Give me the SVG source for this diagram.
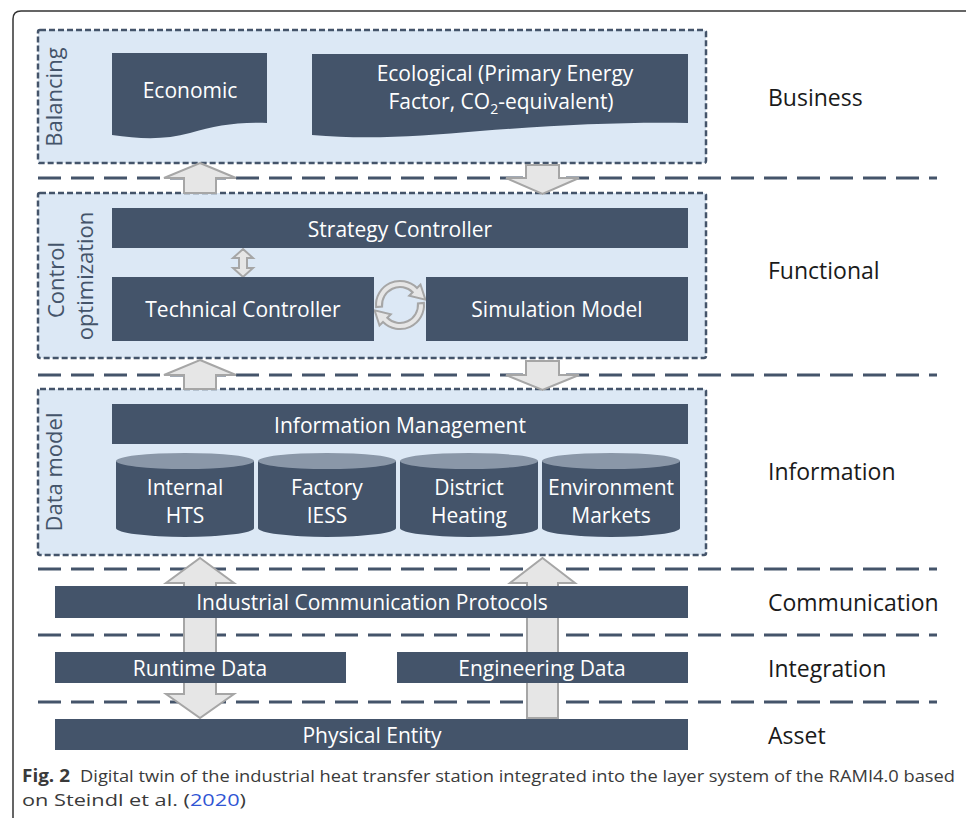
<svg xmlns="http://www.w3.org/2000/svg" width="966" height="818" viewBox="0 0 966 818">
<style>
.box{fill:#44546a}
.lbl{font-family:"Open Sans","DejaVu Sans",sans-serif;font-size:21px;fill:#ffffff;text-anchor:middle}
.side{font-family:"Open Sans","DejaVu Sans",sans-serif;font-size:23px;fill:#1a1a1a}
.vert{font-family:"Open Sans","DejaVu Sans",sans-serif;font-size:22px;fill:#44546a;text-anchor:middle}
.layer{fill:#dce8f5;stroke:#44546a;stroke-width:2.5;stroke-dasharray:6 3}
.sep{stroke:#44546a;stroke-width:3;stroke-dasharray:23 10;fill:none}
.arr{fill:#e6e6e6;stroke:#a6a6a6;stroke-width:2;stroke-linejoin:miter}
.cyltop{fill:#8a97a8}
.cap{font-family:"Open Sans","DejaVu Sans",sans-serif;font-size:17px;fill:#3a3a3a}
</style>
<rect width="966" height="818" fill="#ffffff"/>
<path d="M13,818 V19 Q13,11 21,11 H966" fill="none" stroke="#333333" stroke-width="1.5"/>

<g id="separators">
<line class="sep" x1="38" y1="178" x2="937" y2="178"/>
<line class="sep" x1="38" y1="375" x2="937" y2="375"/>
<line class="sep" x1="38" y1="569" x2="937" y2="569"/>
<line class="sep" x1="38" y1="635" x2="937" y2="635"/>
<line class="sep" x1="38" y1="702" x2="937" y2="702"/>
</g>

<g id="layer-balancing">
<rect class="layer" x="38" y="30" width="668" height="133" rx="2"/>
<text class="vert" transform="translate(62,97) rotate(-90)">Balancing</text>
</g>
<g id="layer-control">
<rect class="layer" x="38" y="193" width="668" height="165" rx="2"/>
<text class="vert" transform="translate(64,280) rotate(-90)">Control</text>
<text class="vert" transform="translate(93,276) rotate(-90)">optimization</text>
</g>
<g id="layer-data">
<rect class="layer" x="38" y="389" width="668" height="166" rx="2"/>
<text class="vert" transform="translate(62,472) rotate(-90)">Data model</text>
</g>

<g id="connectors">
<polygon class="arr" points="200,163 236,178 216,178 216,193 184,193 184,178 164,178"/>
<polygon class="arr" points="526,165 559,165 559,178 579,178 542.5,194 506,178 526,178"/>
<polygon class="arr" points="200,360 236,375 216,375 216,389 184,389 184,375 164,375"/>
<polygon class="arr" points="526,361 559,361 559,375 579,375 542.5,390 506,375 526,375"/>
<polygon class="arr" points="243,249 253,258 247,258 247,268 253,268 243,277 233,268 239,268 239,258 233,258"/>
<path class="arr" d="M376.09,307.09 A24,24 0 0 1 417,288 L420.5,284.5 L425.4,299.6 L409.2,295.8 L412.7,292.3 A18,18 0 0 0 382.07,306.57 Z"/>
<path class="arr" d="M423.91,302.91 A24,24 0 0 1 383,322 L379.5,325.5 L374.6,310.4 L390.8,314.2 L387.3,317.7 A18,18 0 0 0 417.93,303.43 Z"/>
<polygon class="arr" points="200,558 234,583 216,583 216,694 234,694 200,718 166,694 184,694 184,583 166,583"/>
<polygon class="arr" points="542.5,558 575,583 558,583 558,718 527,718 527,583 510,583"/>
</g>

<g id="economic">
<path class="box" d="M112,53 H267 V123 C235,122 215,126 190,133 C165,140 140,139 112,135 Z"/>
<text class="lbl" x="190" y="98">Economic</text>
</g>
<g id="ecological">
<path class="box" d="M312,54 H688 V123 C620,122 560,125 480,131 C420,136 370,140 312,135 Z"/>
<text class="lbl" x="505" y="81">Ecological (Primary Energy</text>
<text class="lbl" x="501" y="109">Factor, CO<tspan font-size="14" dy="5">2</tspan><tspan dy="-5">-equivalent)</tspan></text>
</g>

<g id="strategy-controller">
<rect class="box" x="112" y="208" width="576" height="40"/>
<text class="lbl" x="400" y="237">Strategy Controller</text>
</g>
<g id="technical-controller">
<rect class="box" x="112" y="277" width="262" height="64"/>
<text class="lbl" x="243" y="317">Technical Controller</text>
</g>
<g id="simulation-model">
<rect class="box" x="426" y="277" width="262" height="64"/>
<text class="lbl" x="557" y="317">Simulation Model</text>
</g>

<g id="information-management">
<rect class="box" x="112" y="404" width="576" height="40"/>
<text class="lbl" x="400" y="433">Information Management</text>
</g>

<g id="db-internal">
<path class="box" d="M116,461 V528 A69,9 0 0 0 254,528 V461 Z"/>
<ellipse class="cyltop" cx="185" cy="461" rx="69" ry="8"/>
<text class="lbl" x="185" y="495">Internal</text>
<text class="lbl" x="185" y="523">HTS</text>
</g>
<g id="db-factory">
<path class="box" d="M258,461 V528 A69,9 0 0 0 396,528 V461 Z"/>
<ellipse class="cyltop" cx="327" cy="461" rx="69" ry="8"/>
<text class="lbl" x="327" y="495">Factory</text>
<text class="lbl" x="327" y="523">IESS</text>
</g>
<g id="db-district">
<path class="box" d="M400,461 V528 A69,9 0 0 0 538,528 V461 Z"/>
<ellipse class="cyltop" cx="469" cy="461" rx="69" ry="8"/>
<text class="lbl" x="469" y="495">District</text>
<text class="lbl" x="469" y="523">Heating</text>
</g>
<g id="db-environment">
<path class="box" d="M542,461 V528 A69,9 0 0 0 680,528 V461 Z"/>
<ellipse class="cyltop" cx="611" cy="461" rx="69" ry="8"/>
<text class="lbl" x="611" y="495">Environment</text>
<text class="lbl" x="611" y="523">Markets</text>
</g>

<g id="industrial-communication">
<rect class="box" x="55" y="586" width="633" height="32"/>
<text class="lbl" x="372" y="610">Industrial Communication Protocols</text>
</g>
<g id="runtime-data">
<rect class="box" x="55" y="652" width="291" height="31"/>
<text class="lbl" x="200" y="676">Runtime Data</text>
</g>
<g id="engineering-data">
<rect class="box" x="397" y="652" width="291" height="31"/>
<text class="lbl" x="542" y="676">Engineering Data</text>
</g>
<g id="physical-entity">
<rect class="box" x="55" y="719" width="633" height="31"/>
<text class="lbl" x="372" y="743">Physical Entity</text>
</g>

<g id="layer-names">
<text class="side" x="768" y="106">Business</text>
<text class="side" x="768" y="279">Functional</text>
<text class="side" x="768" y="480">Information</text>
<text class="side" x="768" y="611">Communication</text>
<text class="side" x="768" y="677">Integration</text>
<text class="side" x="768" y="744">Asset</text>
</g>

<g id="caption">
<text class="cap" x="22" y="782" font-weight="bold" fill="#1a1a1a" textLength="48" lengthAdjust="spacingAndGlyphs">Fig. 2</text>
<text class="cap" x="80" y="782" textLength="875" lengthAdjust="spacingAndGlyphs">Digital twin of the industrial heat transfer station integrated into the layer system of the RAMI4.0 based</text>
<text class="cap" x="22" y="806" textLength="224" lengthAdjust="spacingAndGlyphs">on Steindl et al. (<tspan fill="#2f55d4">2020</tspan>)</text>
</g>
</svg>
